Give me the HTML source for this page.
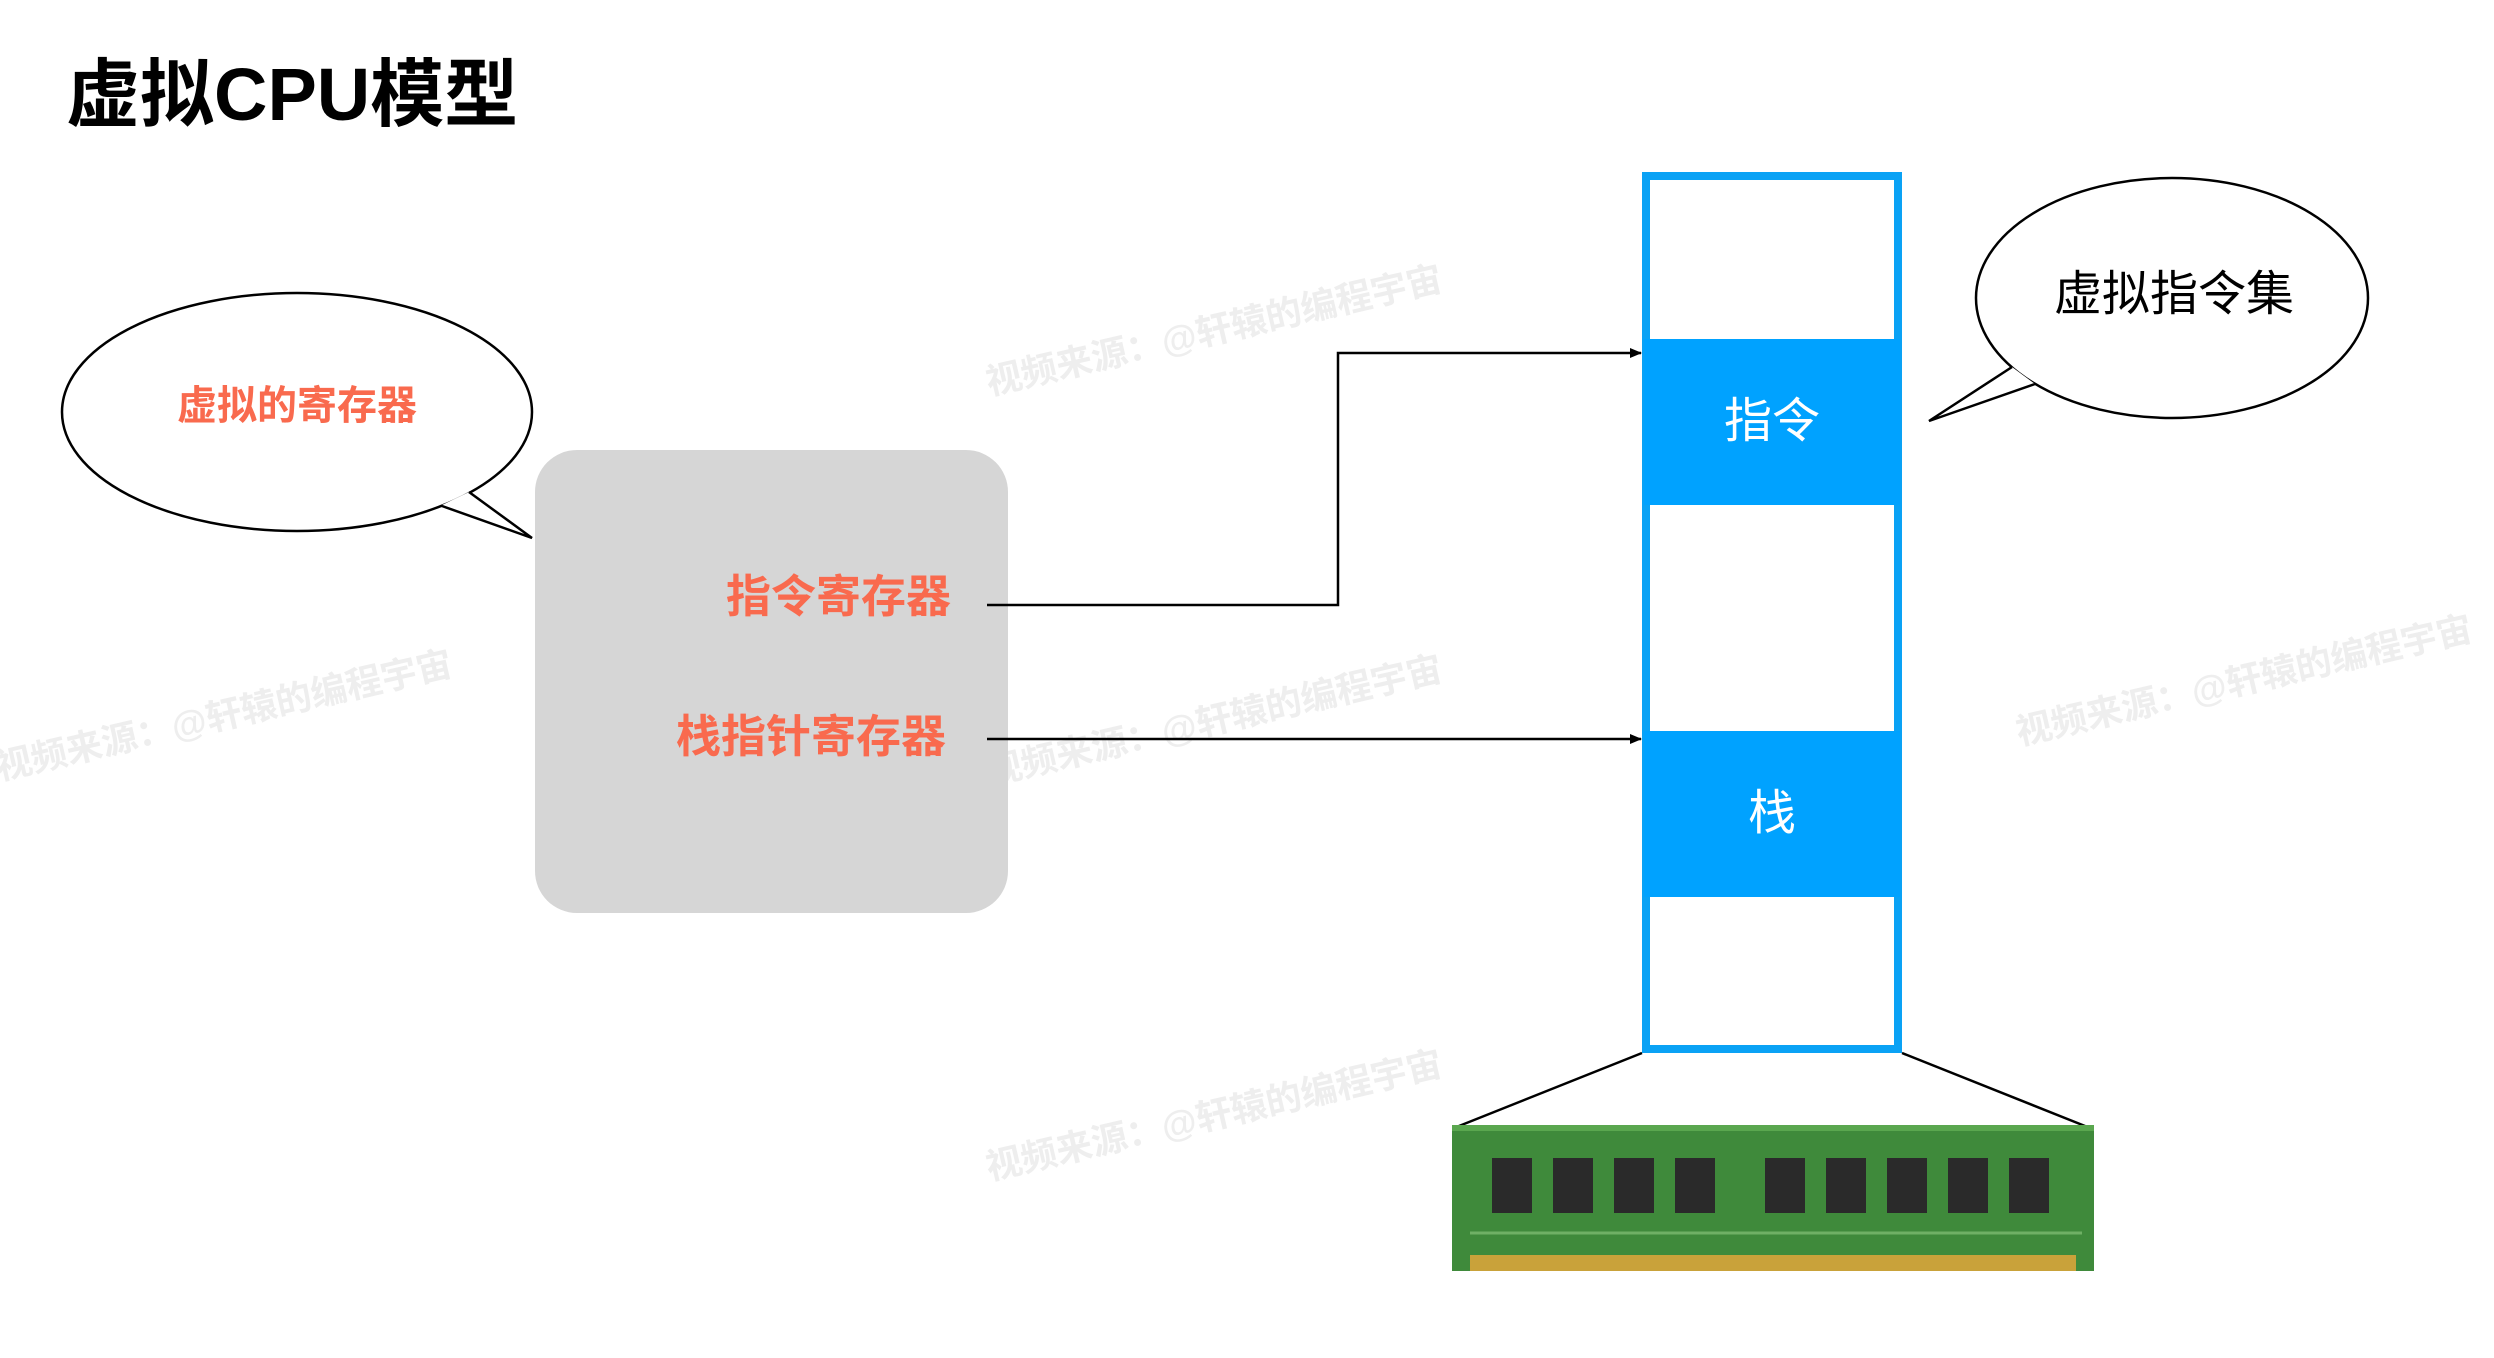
<!DOCTYPE html>
<html><head><meta charset="utf-8"><style>
html,body{margin:0;padding:0;background:#fff;}
body{width:2494px;height:1358px;position:relative;overflow:hidden;font-family:"Liberation Sans","Noto Sans CJK SC",sans-serif;}
.t{position:absolute;white-space:nowrap;line-height:1;}
.wm{position:absolute;color:#eeeeee;font-size:36px;font-weight:bold;transform:rotate(-13deg);transform-origin:left top;white-space:nowrap;}
</style></head><body>
<div class="t" style="left:66px;top:58px;font-size:74px;font-weight:bold;color:#000;">虚拟CPU模型</div>

<div class="wm" style="left:980px;top:355px;">视频来源：@轩辕的编程宇宙</div>
<div class="wm" style="left:-10px;top:740px;">视频来源：@轩辕的编程宇宙</div>
<div class="wm" style="left:980px;top:745px;">视频来源：@轩辕的编程宇宙</div>
<div class="wm" style="left:2010px;top:705px;">视频来源：@轩辕的编程宇宙</div>
<div class="wm" style="left:980px;top:1140px;">视频来源：@轩辕的编程宇宙</div>

<div style="position:absolute;left:535px;top:450px;width:473px;height:463px;background:#d6d6d6;border-radius:42px;"></div>

<svg width="2494" height="1358" style="position:absolute;left:0;top:0;">
<defs><marker id="a" markerWidth="12" markerHeight="10" refX="11" refY="5" orient="auto" markerUnits="userSpaceOnUse"><path d="M0,0 L12,5 L0,10 z" fill="#000"/></marker></defs>
<ellipse cx="297" cy="412" rx="235" ry="119" fill="#fff" stroke="#000" stroke-width="2.5"/>
<polygon points="442,505 532,538 469,492" fill="#fff" stroke="none"/>
<polyline points="442,506 532,538 469,492" fill="none" stroke="#000" stroke-width="2.5"/>
<ellipse cx="2172" cy="298" rx="196" ry="120" fill="#fff" stroke="#000" stroke-width="2.5"/>
<polygon points="2012,367 1929,421 2035,384" fill="#fff" stroke="none"/>
<polyline points="2012,367 1929,421 2035,384" fill="none" stroke="#000" stroke-width="2.5"/>
<polyline points="987,605 1338,605 1338,353 1641,353" fill="none" stroke="#000" stroke-width="2.5" marker-end="url(#a)"/>
<line x1="987" y1="739" x2="1641" y2="739" stroke="#000" stroke-width="2.5" marker-end="url(#a)"/>
<rect x="1646" y="176" width="252" height="873" fill="#fff" stroke="#0aa2f5" stroke-width="8"/>
<rect x="1644" y="339" width="256" height="166" fill="#00a2ff"/>
<rect x="1644" y="731" width="256" height="166" fill="#00a2ff"/>
<line x1="1642" y1="1053" x2="1454" y2="1128" stroke="#000" stroke-width="2.5"/>
<line x1="1902" y1="1053" x2="2090" y2="1128" stroke="#000" stroke-width="2.5"/>
<rect x="1452" y="1125" width="642" height="146" fill="#3f8a3b"/>
<rect x="1452" y="1125" width="642" height="6" fill="#5aa74f"/>
<rect x="1470" y="1255" width="606" height="16" fill="#c9a23a"/>
<g fill="#2a2a2a">
<rect x="1492" y="1158" width="40" height="55"/><rect x="1553" y="1158" width="40" height="55"/><rect x="1614" y="1158" width="40" height="55"/><rect x="1675" y="1158" width="40" height="55"/>
<rect x="1765" y="1158" width="40" height="55"/><rect x="1826" y="1158" width="40" height="55"/><rect x="1887" y="1158" width="40" height="55"/><rect x="1948" y="1158" width="40" height="55"/><rect x="2009" y="1158" width="40" height="55"/>
</g>
<line x1="1470" y1="1233" x2="2082" y2="1233" stroke="#6fb065" stroke-width="3"/>
</svg>

<div class="t" style="left:177px;top:386px;font-size:40px;font-weight:bold;color:#f96a4e;">虚拟的寄存器</div>
<div class="t" style="left:726px;top:574px;font-size:45px;font-weight:bold;color:#f96a4e;">指令寄存器</div>
<div class="t" style="left:676px;top:714px;font-size:45px;font-weight:bold;color:#f96a4e;">栈指针寄存器</div>
<div class="t" style="left:1644px;top:398px;width:256px;text-align:center;font-size:48px;color:#fff;">指令</div>
<div class="t" style="left:1644px;top:790px;width:256px;text-align:center;font-size:48px;color:#fff;">栈</div>
<div class="t" style="left:2054px;top:271px;font-size:48px;color:#000;">虚拟指令集</div>
</body></html>
